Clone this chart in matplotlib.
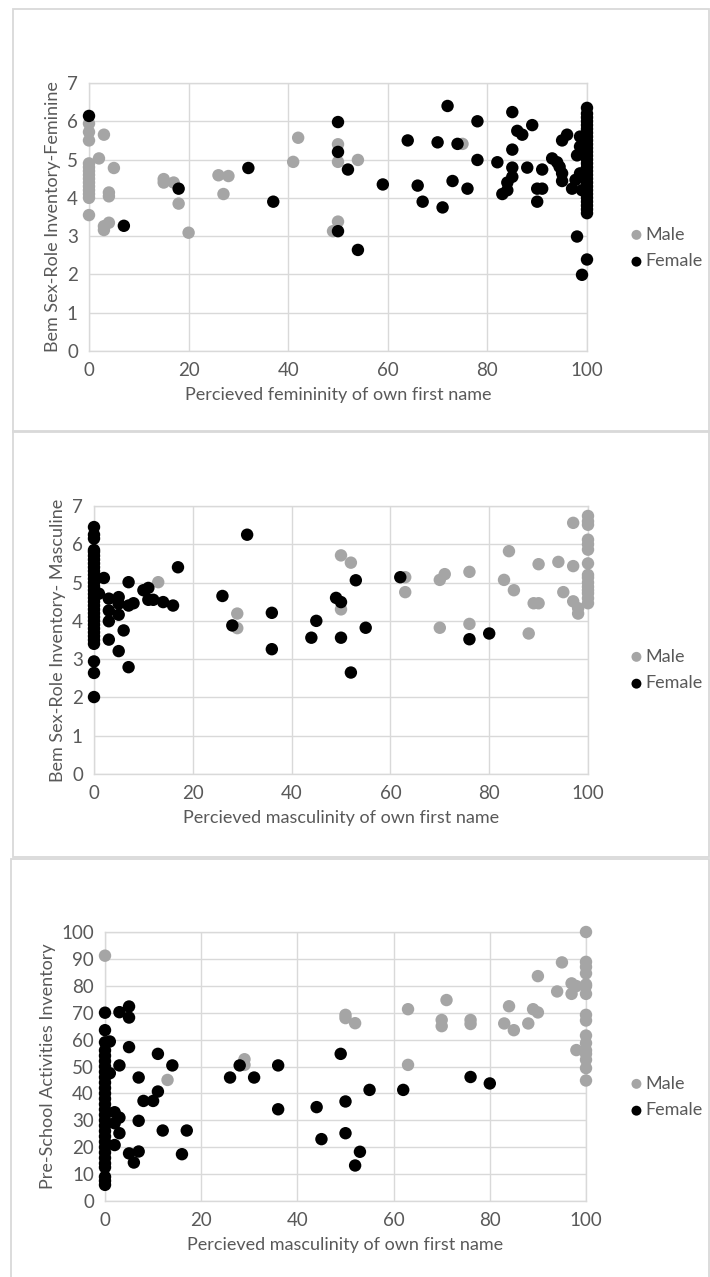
import matplotlib
matplotlib.use("Agg")
import matplotlib.pyplot as plt
from matplotlib.patches import Rectangle

# ---------------- Data ----------------
# Panel 1: femininity of name vs Bem Feminine
p1_male_x = [0,0,0,0,0,0,0,0,0,0,0,0,0,0, 2,3,3,3,4,4,4,5,15,15,17,18,20,26,28,27,41,42,50,50,50,49,54,75]
p1_male_y = [5.94,5.72,5.5,4.9,4.8,4.7,4.6,4.5,4.4,4.3,4.2,4.1,4.0,3.55,
             5.03,5.65,3.26,3.16,3.35,4.14,4.04,4.78,4.49,4.4,4.4,3.85,3.09,4.59,4.57,4.1,4.94,5.57,5.4,4.94,3.38,3.13,4.99,5.41]
p1_female_x = [0,7,18,32,37,50,50,50,52,54,
               59,64,66,67,70,71,72,73,74,76,78,78,
               82,83,84,84,85,85,85,85,86,87,88,89,
               90,90,91,91,93,94,94.5,95,95,95,96,97,
               98,98.6,98,97.7,99,100,98.6,98.6,99,
               100,100,100,100,100,100,100,100,100,100,100,100,100,100,
               100,100,100,100,100,100,100,100,100,100,100,100,100,100]
p1_female_y = [6.14,3.27,4.24,4.78,3.9,5.98,5.2,3.13,4.74,2.64,
               4.35,5.5,4.32,3.9,5.45,3.75,6.4,4.44,5.41,4.24,6.0,4.99,
               4.93,4.1,4.2,4.4,6.24,5.26,4.79,4.55,5.75,5.65,4.79,5.9,
               4.24,3.9,4.74,4.24,5.03,4.93,4.81,4.64,4.44,5.5,5.65,4.24,
               2.99,5.6,5.11,4.47,1.99,2.39,5.34,4.64,4.2,
               6.35,6.2,6.1,6.0,5.9,5.8,5.7,5.6,5.5,5.4,5.3,5.2,5.1,5.0,
               4.9,4.8,4.7,4.6,4.5,4.4,4.3,4.2,4.1,4.0,3.9,3.8,3.7,3.6]

# Panel 2: masculinity of name vs Bem Masculine
p2_male_x = [13,29,29,50,52,50,63,63,70,71,70,76,76,83,84,85,88,89,90,90,94,95,97,97,97,98,98,
             100,100,100,100,100,100,100,100,100,100,100,100,100,100,100]
p2_male_y = [5.01,4.19,3.81,5.71,5.52,4.3,5.14,4.75,5.07,5.22,3.82,5.28,3.92,5.07,5.82,4.8,3.67,4.46,4.46,5.48,
             5.54,4.75,6.56,5.43,4.51,4.33,4.19,
             6.74,6.6,6.51,6.12,6.0,5.86,5.5,5.2,5.13,5.0,4.89,4.8,4.72,4.59,4.46]
p2_female_x = [0]*32 + [2,1,3,3,3,3,5,5,5,5,6,7,7,7,8,10,11,11,12,14,16,17,26,28,31,36,36,44,45,49,50,50,52,53,55,62,76,80]
p2_female_y = [6.45,6.25,6.15,5.85,5.8,5.7,5.6,5.5,5.4,5.3,5.2,5.1,5.0,4.9,4.8,4.7,4.6,4.5,4.4,4.3,4.2,4.1,4.0,
               3.9,3.8,3.7,3.6,3.5,3.4,2.94,2.64,2.01,
               5.12,4.71,4.58,4.27,3.99,3.51,4.62,4.45,4.16,3.21,3.75,5.01,2.79,4.4,4.46,4.8,4.86,4.55,4.55,4.49,
               4.4,5.4,4.65,3.88,6.25,4.21,3.26,3.56,4.0,4.6,4.49,3.56,2.65,5.06,3.82,5.14,3.52,3.67]

# Panel 3: masculinity of name vs Pre-School Activities Inventory
p3_male_x = [0,13,29,29,50,50,52,63,63,70,70,71,76,76,83,84,85,88,89,90,90,94,95,97,97,98,98,
             100,100,100,100,100,100,100,100,100,100,100,100,100,100,100,100]
p3_male_y = [91.2,45,52.7,50.6,69.2,68,66.1,71.3,50.6,67.3,65,74.7,67.3,65.8,66,72.4,63.5,66,71.3,70.1,83.6,
             77.9,88.7,80.9,77,79.9,56.1,
             100,88.9,87,84.6,80.5,79.9,77,69.2,67.1,61.5,58.7,56,54.7,52.5,49.4,44.8]
p3_female_x = [0]*29 + [1,1,2,2,2,3,3,3,3,5,5,5,5,6,7,7,7,8,10,11,11,12,14,16,17,26,28,31,36,36,44,45,49,50,50,52,53,55,62,76,80]
p3_female_y = [70,63.5,59,56,54,52,50,48,46,44,42,40,38,36,34,32,30,28,26,24,22,20,18,16,14,12.5,9,7.5,6,
               59.3,47.5,33,20.8,28.9,70.2,50.4,31,25.2,72.3,68.2,57.2,17.7,14.3,45.9,29.8,18.4,37.2,37.2,
               54.7,40.7,26.2,50.4,17.4,26.2,45.9,50.4,45.9,50.4,34.1,34.9,23,54.7,37,25.2,13.2,18.3,41.3,
               41.3,46.1,43.7]

series_labels = ["Male", "Female"]
x_ticks = [0, 20, 40, 60, 80, 100]
xlabels = ["Percieved femininity of own first name",
           "Percieved masculinity of own first name",
           "Percieved masculinity of own first name"]
ylabels = ["Bem Sex-Role Inventory-Feminine",
           "Bem Sex-Role Inventory- Masculine",
           "Pre-School Activities Inventory"]

# ---------------- Figure ----------------
W, H = 710, 1277
fig = plt.figure(figsize=(W / 100, H / 100), dpi=100)
plt.rcParams['font.family'] = ['Lato', 'DejaVu Sans']

TXT = '#595959'
GRID = '#d9d9d9'
GRAY = '#a5a5a5'

# panel borders (pixel coords: left, top, right, bottom)
for (l, t, r, b) in [(13, 9, 709, 432), (13, 431, 709, 857), (11, 859, 709, 1282)]:
    fig.patches.append(Rectangle((l / W, 1 - b / H), (r - l) / W, (b - t) / H,
                                 transform=fig.transFigure, fill=False,
                                 edgecolor=GRID, linewidth=1.3))

# axes boxes in pixels: left, right, top, bottom
boxes = [(89, 587, 83, 351), (94, 588, 506, 774), (105, 586, 932, 1201)]
legend_y = [248, 670, 1097]
data = [(p1_male_x, p1_male_y, p1_female_x, p1_female_y),
        (p2_male_x, p2_male_y, p2_female_x, p2_female_y),
        (p3_male_x, p3_male_y, p3_female_x, p3_female_y)]
ylims = [(0, 7, list(range(0, 8))), (0, 7, list(range(0, 8))), (0, 100, list(range(0, 101, 10)))]

for i in range(3):
    l, r, t, b = boxes[i]
    ax = fig.add_axes([l / W, 1 - b / H, (r - l) / W, (b - t) / H])
    mx, my, fx, fy = data[i]
    ax.scatter(mx, my, s=80, color=GRAY, edgecolors='none', label=series_labels[0],
               clip_on=False, zorder=3)
    ax.scatter(fx, fy, s=80, color='black', edgecolors='none', label=series_labels[1],
               clip_on=False, zorder=4)
    y0, y1, yt = ylims[i]
    ax.set_xlim(0, 100)
    ax.set_ylim(y0, y1)
    ax.set_xticks(x_ticks)
    ax.set_yticks(yt)
    ax.grid(True, color=GRID, linewidth=1.0)
    ax.set_axisbelow(True)
    for sp in ax.spines.values():
        sp.set_color(GRID)
        sp.set_linewidth(1.0)
    ax.tick_params(length=0, labelsize=13.5, colors=TXT, pad=8)
    ax.set_xlabel(xlabels[i], fontsize=13, color=TXT, labelpad=6)
    ax.set_ylabel(ylabels[i], fontsize=13, color=TXT, labelpad=4)
    leg = ax.legend(loc='center left', bbox_to_anchor=(622 / W, 1 - legend_y[i] / H),
                    bbox_transform=fig.transFigure, frameon=False, fontsize=13,
                    handlelength=0.6, handletextpad=0.2, borderpad=0,
                    labelspacing=0.6, markerscale=0.8)
    for txt in leg.get_texts():
        txt.set_color(TXT)

fig.savefig("out.png", dpi=100)
